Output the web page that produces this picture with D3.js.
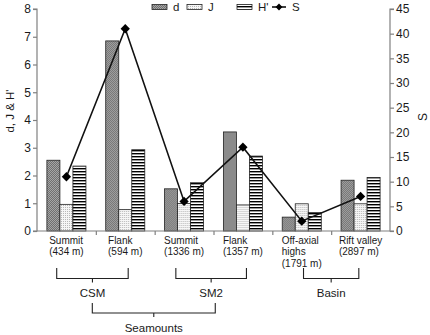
<!DOCTYPE html>
<html>
<head>
<meta charset="utf-8">
<script src="https://cdn.jsdelivr.net/npm/d3@7"></script>
<style>
  body { margin: 0; background: #fff; }
  text { font-family: "Liberation Sans", Arial, sans-serif; fill: #1a1a1a; }
</style>
</head>
<body>
<div id="chart"></div>
<script>
// data
const sites = ["Summit|(434 m)", "Flank|(594 m)", "Summit|(1336 m)", "Flank|(1357 m)", "Off-axial|highs|(1791 m)", "Rift valley|(2897 m)"];
const dVals = [2.55, 6.85, 1.52, 3.57, 0.5, 1.83];
const jVals = [0.96, 0.77, 0.99, 0.94, 0.98, 0.98];
const hVals = [2.34, 2.93, 1.74, 2.7, 0.67, 1.93];
const sVals = [11, 41, 6, 17, 2, 7];
const leftTicks = [0, 1, 2, 3, 4, 5, 6, 7, 8];
const rightTicks = [0, 5, 10, 15, 20, 25, 30, 35, 40, 45];
const barKeys = ["d", "J", "H'"];
// brackets under the axis, in group-index units
const brackets = [
  {label: "CSM", from: 0.335, to: 1.55, level: 0},
  {label: "SM2", from: 2.36, to: 3.56, level: 0},
  {label: "Basin", from: 4.53, to: 5.47, level: 0},
  {label: "Seamounts", from: 0.94, to: 3.03, level: 1}
];

const W = 430, H = 335;
const margin = {top: 9, right: 40, bottom: 104, left: 37};
const width = W - margin.left - margin.right;
const height = H - margin.top - margin.bottom;

const svg = d3.select("#chart").append("svg")
    .attr("width", W).attr("height", H);

// fill patterns
const defs = svg.append("defs");
const pd = defs.append("pattern").attr("id", "patD").attr("patternUnits", "userSpaceOnUse")
    .attr("width", 2).attr("height", 2);
pd.append("rect").attr("width", 2).attr("height", 2).attr("fill", "#707070");
pd.append("rect").attr("width", 1).attr("height", 1).attr("fill", "#a6a6a6");
pd.append("rect").attr("x", 1).attr("y", 1).attr("width", 1).attr("height", 1).attr("fill", "#a6a6a6");

const pj = defs.append("pattern").attr("id", "patJ").attr("patternUnits", "userSpaceOnUse")
    .attr("width", 2).attr("height", 2);
pj.append("rect").attr("width", 2).attr("height", 2).attr("fill", "#f6f6f6");
pj.append("rect").attr("width", 1).attr("height", 1).attr("fill", "#b8b8b8");

const ph = defs.append("pattern").attr("id", "patH").attr("patternUnits", "userSpaceOnUse")
    .attr("width", 4).attr("height", 3);
ph.append("rect").attr("width", 4).attr("height", 3).attr("fill", "#fff");
ph.append("rect").attr("width", 4).attr("height", 1.4).attr("fill", "#000");

const fills = {"d": "url(#patD)", "J": "url(#patJ)", "H'": "url(#patH)"};

const g = svg.append("g").attr("transform", `translate(${margin.left},${margin.top})`);

const x = d3.scaleBand().domain(d3.range(sites.length)).range([0, width]).padding(0);
const xi = d3.scaleLinear().domain([0, sites.length]).range([0, width]);
const xSub = d3.scaleBand().domain(barKeys).range([0, x.bandwidth()]).paddingInner(0).paddingOuter(0.76);
const y = d3.scaleLinear().domain([0, 8]).range([height, 0]);
const yS = d3.scaleLinear().domain([0, 45]).range([height, 0]);

const rows = sites.map((s, i) => ({i, vals: [dVals[i], jVals[i], hVals[i]]}));

// bars
const grp = g.selectAll(".grp").data(rows).enter().append("g")
    .attr("transform", d => `translate(${x(d.i)},0)`);
grp.selectAll("rect").data(d => d.vals.map((v, k) => ({k: barKeys[k], v}))).enter()
    .append("rect")
    .attr("x", d => xSub(d.k))
    .attr("y", d => y(d.v))
    .attr("width", xSub.bandwidth())
    .attr("height", d => height - y(d.v))
    .attr("fill", d => fills[d.k])
    .attr("stroke", "#222").attr("stroke-width", 0.8);

// axes
const axisColor = "#808080";
const yAxis = g.append("g").call(d3.axisLeft(y).tickValues(leftTicks).tickSize(4).tickPadding(2));
const yAxis2 = g.append("g").attr("transform", `translate(${width},0)`)
    .call(d3.axisRight(yS).tickValues(rightTicks).tickSize(4).tickPadding(2));
const xAxis = g.append("g").attr("transform", `translate(0,${height})`)
    .call(d3.axisBottom(xi).tickValues(d3.range(1, sites.length)).tickSize(4).tickFormat(""));
[yAxis, yAxis2, xAxis].forEach(a => {
  a.select(".domain").attr("stroke", axisColor).attr("stroke-width", 1.2);
  a.selectAll(".tick line").attr("stroke", axisColor).attr("stroke-width", 1.2);
  a.selectAll("text").style("font-size", "12px").attr("fill", "#1a1a1a")
      .style("font-family", "Liberation Sans, Arial, sans-serif");
});
xAxis.select(".domain").attr("d", `M0,0H${width}`);
yAxis.select(".domain").attr("d", `M-4,0H0V${height}H-4`);
yAxis2.select(".domain").attr("d", `M4,0H0V${height}H4`);

// S line
const cx = i => x(i) + x.bandwidth() / 2;
g.append("path").datum(sVals)
    .attr("fill", "none").attr("stroke", "#111").attr("stroke-width", 1.6)
    .attr("d", d3.line().x((d, i) => cx(i)).y(d => yS(d)));
g.selectAll(".pt").data(sVals).enter().append("path")
    .attr("transform", (d, i) => `translate(${cx(i)},${yS(d)})`)
    .attr("d", d3.symbol(d3.symbolDiamond2, 55)).attr("fill", "#000");

// category labels
const lab = g.append("g").attr("transform", `translate(0,${height})`);
sites.forEach((s, i) => {
  const t = lab.append("text").style("font-size", "10px");
  s.split("|").forEach((line, k) => {
    t.append("tspan").attr("x", 0).attr("y", 12.5 + k * 11.8).text(line);
  });
  const w = t.node().getBBox().width;
  t.attr("transform", `translate(${cx(i) - w / 2},0)`);
});

// brackets
const br = g.append("g").attr("transform", `translate(0,${height})`)
    .attr("stroke", "#222").attr("stroke-width", 1.1).attr("fill", "none");
brackets.forEach(b => {
  const top = b.level === 0 ? 37 : 72;
  const bot = b.level === 0 ? 47.5 : 82;
  const x0 = xi(b.from), x1 = xi(b.to), xm = (x0 + x1) / 2;
  br.append("path").attr("d", `M${x0},${top}V${bot}H${x1}V${top}M${xm},${bot}V${bot + 4}`);
  g.append("text").attr("x", xm).attr("y", height + (b.level === 0 ? 66 : 100.5))
      .attr("text-anchor", "middle").style("font-size", "11.5px").text(b.label);
});

// axis titles
svg.append("text").attr("transform", "translate(14,111) rotate(-90)")
    .attr("text-anchor", "middle").style("font-size", "11.5px").text("d, J & H'");
svg.append("text").attr("transform", "translate(427,117) rotate(-90)")
    .attr("text-anchor", "middle").style("font-size", "12px").text("S");

// legend
const legItems = [
  {k: "d", x: 152}, {k: "J", x: 187}, {k: "H'", x: 237}, {k: "S", x: 272}
];
const leg = svg.append("g");
legItems.forEach(it => {
  if (it.k === "S") {
    leg.append("line").attr("x1", it.x).attr("x2", it.x + 14).attr("y1", 7).attr("y2", 7)
        .attr("stroke", "#111").attr("stroke-width", 1.6);
    leg.append("path").attr("transform", `translate(${it.x + 7},7)`)
        .attr("d", d3.symbol(d3.symbolDiamond2, 30)).attr("fill", "#000");
  } else {
    leg.append("rect").attr("x", it.x).attr("y", 4.5).attr("width", 15).attr("height", 5)
        .attr("fill", fills[it.k]).attr("stroke", "#222").attr("stroke-width", 0.8);
  }
  leg.append("text").attr("x", it.k === "S" ? it.x + 20 : it.x + 21).attr("y", 11)
      .style("font-size", "11.5px").text(it.k);
});
</script>
</body>
</html>
